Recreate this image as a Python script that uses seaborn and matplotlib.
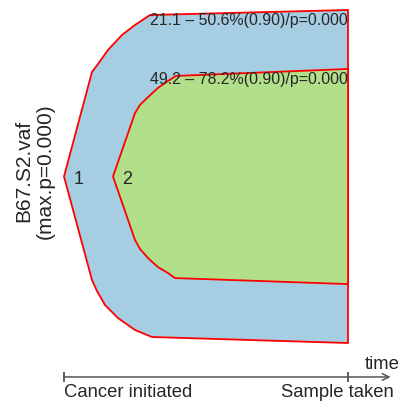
import numpy as np
import matplotlib
matplotlib.use("Agg")
import matplotlib.pyplot as plt
import seaborn as sns

# clone outlines: time (0 = cancer initiated, 1 = sample taken) and vaf-ish bounds
clone1_top_t = [0.0, 0.0986, 0.1197, 0.1549, 0.2042, 0.25, 0.3028, 1.0]
clone1_top = [0.0, 62.8, 67.6, 76.0, 85.0, 91.0, 97.0, 100.0]
clone1_bot_t = [0.0, 0.0986, 0.1162, 0.1444, 0.1901, 0.25, 0.3099, 1.0]
clone1_bot = [0.0, -62.2, -68.8, -77.2, -85.0, -92.2, -96.4, -100.0]

clone2_top_t = [0.1725, 0.25, 0.2676, 0.2958, 0.331, 0.3662, 0.3944, 1.0]
clone2_top = [0.0, 38.1, 43.0, 47.7, 53.2, 57.4, 60.4, 64.6]
clone2_bot_t = [0.1725, 0.25, 0.2676, 0.2958, 0.331, 0.3662, 0.3908, 1.0]
clone2_bot = [0.0, -38.1, -43.5, -49.0, -54.4, -58.0, -61.0, -64.6]

clone_names = ["1", "2"]
clone_labels = ["21.1 \u2013 50.6%(0.90)/p=0.000", "49.2 \u2013 78.2%(0.90)/p=0.000"]
ylabel = "B67.S2.vaf\n(max.p=0.000)"
time_labels = ["Cancer initiated", "Sample taken"]

sns.set_theme(style="white")
plt.rcParams["font.family"] = ["Liberation Sans", "DejaVu Sans"]

pal = sns.color_palette("Paired")
fill_colors = [pal[0], pal[2]]

fig = plt.figure(figsize=(4.02, 4.01), dpi=100)
ax = fig.add_axes([0, 0, 1, 1])
ax.set_xlim(-64 / 284, 338 / 284)
ax.set_ylim(-134.83, 106.01)
ax.axis("off")

# clone 1
xs = np.concatenate([clone1_top_t, clone1_bot_t[::-1]])
ys = np.concatenate([clone1_top, clone1_bot[::-1]])
ax.fill(xs, ys, facecolor=fill_colors[0], edgecolor="red", lw=1.3)

# clone 2
xs = np.concatenate([clone2_top_t, clone2_bot_t[::-1]])
ys = np.concatenate([clone2_top, clone2_bot[::-1]])
ax.fill(xs, ys, facecolor=fill_colors[1], edgecolor="red", lw=1.3)

# clone numbers
ax.text(clone1_top_t[0] + 0.05, -1.5, clone_names[0], fontsize=13, ha="center", va="center")
ax.text(clone2_top_t[0] + 0.05, -1.5, clone_names[1], fontsize=13, ha="center", va="center")

# vaf labels
ax.text(1.0, 93.5, clone_labels[0], fontsize=11.4, ha="right", va="center")
ax.text(1.0, 58.3, clone_labels[1], fontsize=11.4, ha="right", va="center")

ax.text(-0.104, 3.3, ylabel, fontsize=15, rotation=90, ha="center", va="center",
        multialignment="center", linespacing=1.15)

# time axis
ty = -120.4
ax.annotate("", xy=(1.15, ty), xytext=(0, ty),
            arrowprops=dict(arrowstyle="->", color="#555555", lw=1.1, shrinkA=0, shrinkB=0))
ax.vlines([0, 1], ty - 3.2, ty + 3.2, color="#333333", lw=1.1)
ax.text(1.12, -113.0, "time", fontsize=13.3, ha="center", va="center")
ax.text(0.0, -129.6, time_labels[0], fontsize=13.3, ha="left", va="center")
ax.text(1.162, -129.6, time_labels[1], fontsize=13.3, ha="right", va="center")

fig.savefig("out.png", dpi=100)
